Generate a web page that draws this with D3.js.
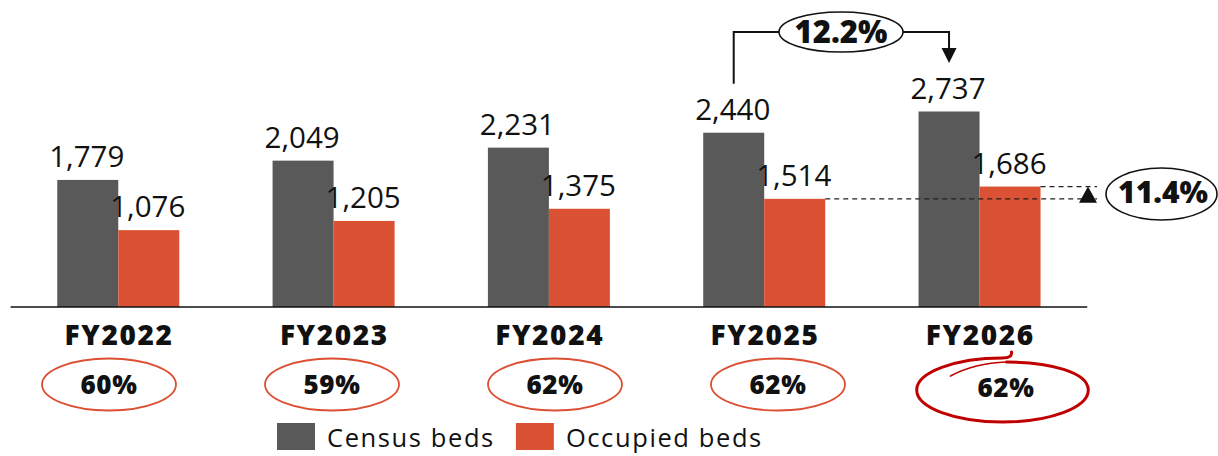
<!DOCTYPE html>
<html>
<head>
<meta charset="utf-8">
<script src="https://cdn.jsdelivr.net/npm/d3@7"></script>
<style>
  body { margin: 0; background: #fff; }
  text { font-family: "Open Sans", sans-serif; }
</style>
</head>
<body>
<script>
// data
var years = ["FY2022", "FY2023", "FY2024", "FY2025", "FY2026"];
var censusBeds = [1779, 2049, 2231, 2440, 2737];
var occupiedBeds = [1076, 1205, 1375, 1514, 1686];
var occupancy = ["60%", "59%", "62%", "62%", "62%"];
var seriesNames = ["Census beds", "Occupied beds"];
var censusGrowth = "12.2%";   // FY2025 -> FY2026 census
var occupiedGrowth = "11.4%"; // FY2025 -> FY2026 occupied

var colors = { census: "#595959", occupied: "#DA5133" };

var svgWidth = 1218;
var svgHeight = 456;
var baseline = 307;

var svg = d3.select("body")
  .append("svg")
  .attr("width", svgWidth)
  .attr("height", svgHeight);

var x0 = d3.scaleBand()
  .domain(years)
  .range([10.6, 1087.2])
  .paddingInner(0.4334)
  .paddingOuter(0.2167);

var x1 = d3.scaleBand()
  .domain(["census", "occupied"])
  .range([0, x0.bandwidth()]);

var y = d3.scaleLinear()
  .domain([0, 2800])
  .range([baseline, baseline - 200]);

// ellipses under the year labels sit on their own, slightly wider spacing
var xRatio = d3.scalePoint()
  .domain(years)
  .range([109, 1001]);

var rows = years.map(function(d, i) {
  return { year: d, census: censusBeds[i], occupied: occupiedBeds[i], ratio: occupancy[i] };
});

var groups = svg.selectAll(".group")
  .data(rows)
  .enter().append("g")
  .attr("class", "group")
  .attr("transform", function(d) { return "translate(" + x0(d.year) + ",0)"; });

["census", "occupied"].forEach(function(key) {
  groups.append("rect")
    .attr("x", x1(key))
    .attr("y", function(d) { return y(d[key]); })
    .attr("width", x1.bandwidth())
    .attr("height", function(d) { return baseline - y(d[key]); })
    .attr("fill", colors[key]);

  groups.append("text")
    .attr("x", x1(key) + x1.bandwidth() / 2 - 1)
    .attr("y", function(d) { return y(d[key]) - 13; })
    .attr("text-anchor", "middle")
    .attr("font-size", 29.5)
    .attr("fill", "#111")
    .text(function(d) { return d3.format(",")(d[key]); });
});

// axis line
svg.append("line")
  .attr("x1", x0.range()[0])
  .attr("x2", x0.range()[1])
  .attr("y1", baseline)
  .attr("y2", baseline)
  .attr("stroke", "#111")
  .attr("stroke-width", 1.6);

// year labels
groups.append("text")
  .attr("x", x0.bandwidth() / 2 + 0.8)
  .attr("y", 345)
  .attr("text-anchor", "middle")
  .attr("font-size", 28)
  .attr("font-weight", 800)
  .attr("letter-spacing", 1.6)
  .attr("fill", "#111")
  .text(function(d) { return d.year; });

// occupancy ellipses
var last = years[years.length - 1];
svg.selectAll(".ratio-ring")
  .data(rows.filter(function(d) { return d.year != last; }))
  .enter().append("ellipse")
  .attr("class", "ratio-ring")
  .attr("cx", function(d) { return xRatio(d.year); })
  .attr("cy", 384.5)
  .attr("rx", 67)
  .attr("ry", 26)
  .attr("fill", "none")
  .attr("stroke", "#DD4F33")
  .attr("stroke-width", 1.8);

// hand drawn ring for the last year
(function() {
  var cx = xRatio(last) + 1.5, cy = 390, rx = 85.8, ry = 32, k = 0.5523;
  var p = "M" + (cx + 9) + "," + (cy - ry - 6)
    + "Q" + (cx + 10) + "," + (cy - ry) + " " + cx + "," + (cy - ry)
    + "C" + (cx - rx * k) + "," + (cy - ry) + " " + (cx - rx) + "," + (cy - ry * k) + " " + (cx - rx) + "," + cy
    + "C" + (cx - rx) + "," + (cy + ry * k) + " " + (cx - rx * k) + "," + (cy + ry) + " " + cx + "," + (cy + ry)
    + "C" + (cx + rx * k) + "," + (cy + ry) + " " + (cx + rx) + "," + (cy + ry * k) + " " + (cx + rx) + "," + cy
    + "C" + (cx + rx) + "," + (cy - ry * k) + " " + (cx + rx * k) + "," + (cy - ry + 4) + " " + (cx + 4) + "," + (cy - ry + 4);
  svg.append("path")
    .attr("d", p)
    .attr("fill", "none")
    .attr("stroke", "#C00000")
    .attr("stroke-width", 3)
    .attr("stroke-linecap", "round");
  // thinning tail of the stroke
  svg.append("path")
    .attr("d", "M" + (cx + 4) + "," + (cy - ry + 4) + "Q" + (cx - 28) + "," + (cy - ry + 5) + " " + (cx - 52) + "," + (cy - 14))
    .attr("fill", "none")
    .attr("stroke", "#C00000")
    .attr("stroke-width", 1.6)
    .attr("stroke-linecap", "round");
})();

svg.selectAll(".ratio-label")
  .data(rows)
  .enter().append("text")
  .attr("class", "ratio-label")
  .attr("x", function(d) { return d.year == last ? xRatio(d.year) + 5 : xRatio(d.year); })
  .attr("y", function(d) { return d.year == last ? 397 : 394; })
  .attr("text-anchor", "middle")
  .attr("font-size", 26)
  .attr("font-weight", 800)
  .attr("letter-spacing", 0.6)
  .attr("fill", "#111")
  .text(function(d) { return d.ratio; });

// census growth bracket FY2025 -> FY2026
var cFrom = x0("FY2025") + x1("census") + x1.bandwidth() / 2;
var cTo = x0("FY2026") + x1("census") + x1.bandwidth() / 2;
var topY = 32;
var bubbleX = 841;
svg.append("path")
  .attr("d", "M" + cFrom + "," + (y(censusBeds[3]) - 49) + "V" + topY + "H" + (bubbleX - 62)
    + "M" + (bubbleX + 62) + "," + topY + "H" + cTo + "V" + 49)
  .attr("fill", "none")
  .attr("stroke", "#111")
  .attr("stroke-width", 2);
svg.append("path")
  .attr("d", "M" + (cTo - 7.5) + ",48L" + (cTo + 7.5) + ",48L" + cTo + ",63Z")
  .attr("fill", "#111");
svg.append("ellipse")
  .attr("cx", bubbleX).attr("cy", topY)
  .attr("rx", 62).attr("ry", 20)
  .attr("fill", "#fff")
  .attr("stroke", "#111")
  .attr("stroke-width", 1.6);
svg.append("text")
  .attr("x", bubbleX).attr("y", topY + 11)
  .attr("text-anchor", "middle")
  .attr("font-size", 31)
  .attr("font-weight", 800)
  .attr("fill", "#111")
  .text(censusGrowth);

// occupied growth marker
var oPrevTop = y(occupiedBeds[3]);
var oLastTop = y(occupiedBeds[4]);
var markX = 1088;
svg.append("line")
  .attr("x1", x0("FY2025") + x1("occupied") + x1.bandwidth())
  .attr("x2", markX + 9)
  .attr("y1", oPrevTop).attr("y2", oPrevTop)
  .attr("stroke", "#222").attr("stroke-width", 1.2)
  .attr("stroke-dasharray", "5,4");
svg.append("line")
  .attr("x1", x0("FY2026") + x1("occupied") + x1.bandwidth())
  .attr("x2", markX + 9)
  .attr("y1", oLastTop).attr("y2", oLastTop)
  .attr("stroke", "#222").attr("stroke-width", 1.2)
  .attr("stroke-dasharray", "5,4");
svg.append("path")
  .attr("d", "M" + markX + "," + oLastTop + "L" + (markX + 9) + "," + (oPrevTop + 4) + "L" + (markX - 9) + "," + (oPrevTop + 4) + "Z")
  .attr("fill", "#111");
svg.append("ellipse")
  .attr("cx", 1161.5).attr("cy", 194)
  .attr("rx", 55.5).attr("ry", 26)
  .attr("fill", "#fff")
  .attr("stroke", "#111")
  .attr("stroke-width", 1.6);
svg.append("text")
  .attr("x", 1163).attr("y", 203)
  .attr("text-anchor", "middle")
  .attr("font-size", 30)
  .attr("font-weight", 800)
  .attr("fill", "#111")
  .text(occupiedGrowth);

// legend
var legend = svg.append("g").attr("class", "legend");
var lx = 277;
seriesNames.forEach(function(name, i) {
  legend.append("rect")
    .attr("x", lx).attr("y", 423)
    .attr("width", 38).attr("height", 27)
    .attr("fill", i == 0 ? colors.census : colors.occupied);
  var t = legend.append("text")
    .attr("x", lx + 50).attr("y", 447)
    .attr("font-size", 25.5)
    .attr("letter-spacing", 1.6)
    .attr("fill", "#111")
    .text(name);
  lx = lx + 50 + t.node().getComputedTextLength() + 21;
});
</script>
</body>
</html>
